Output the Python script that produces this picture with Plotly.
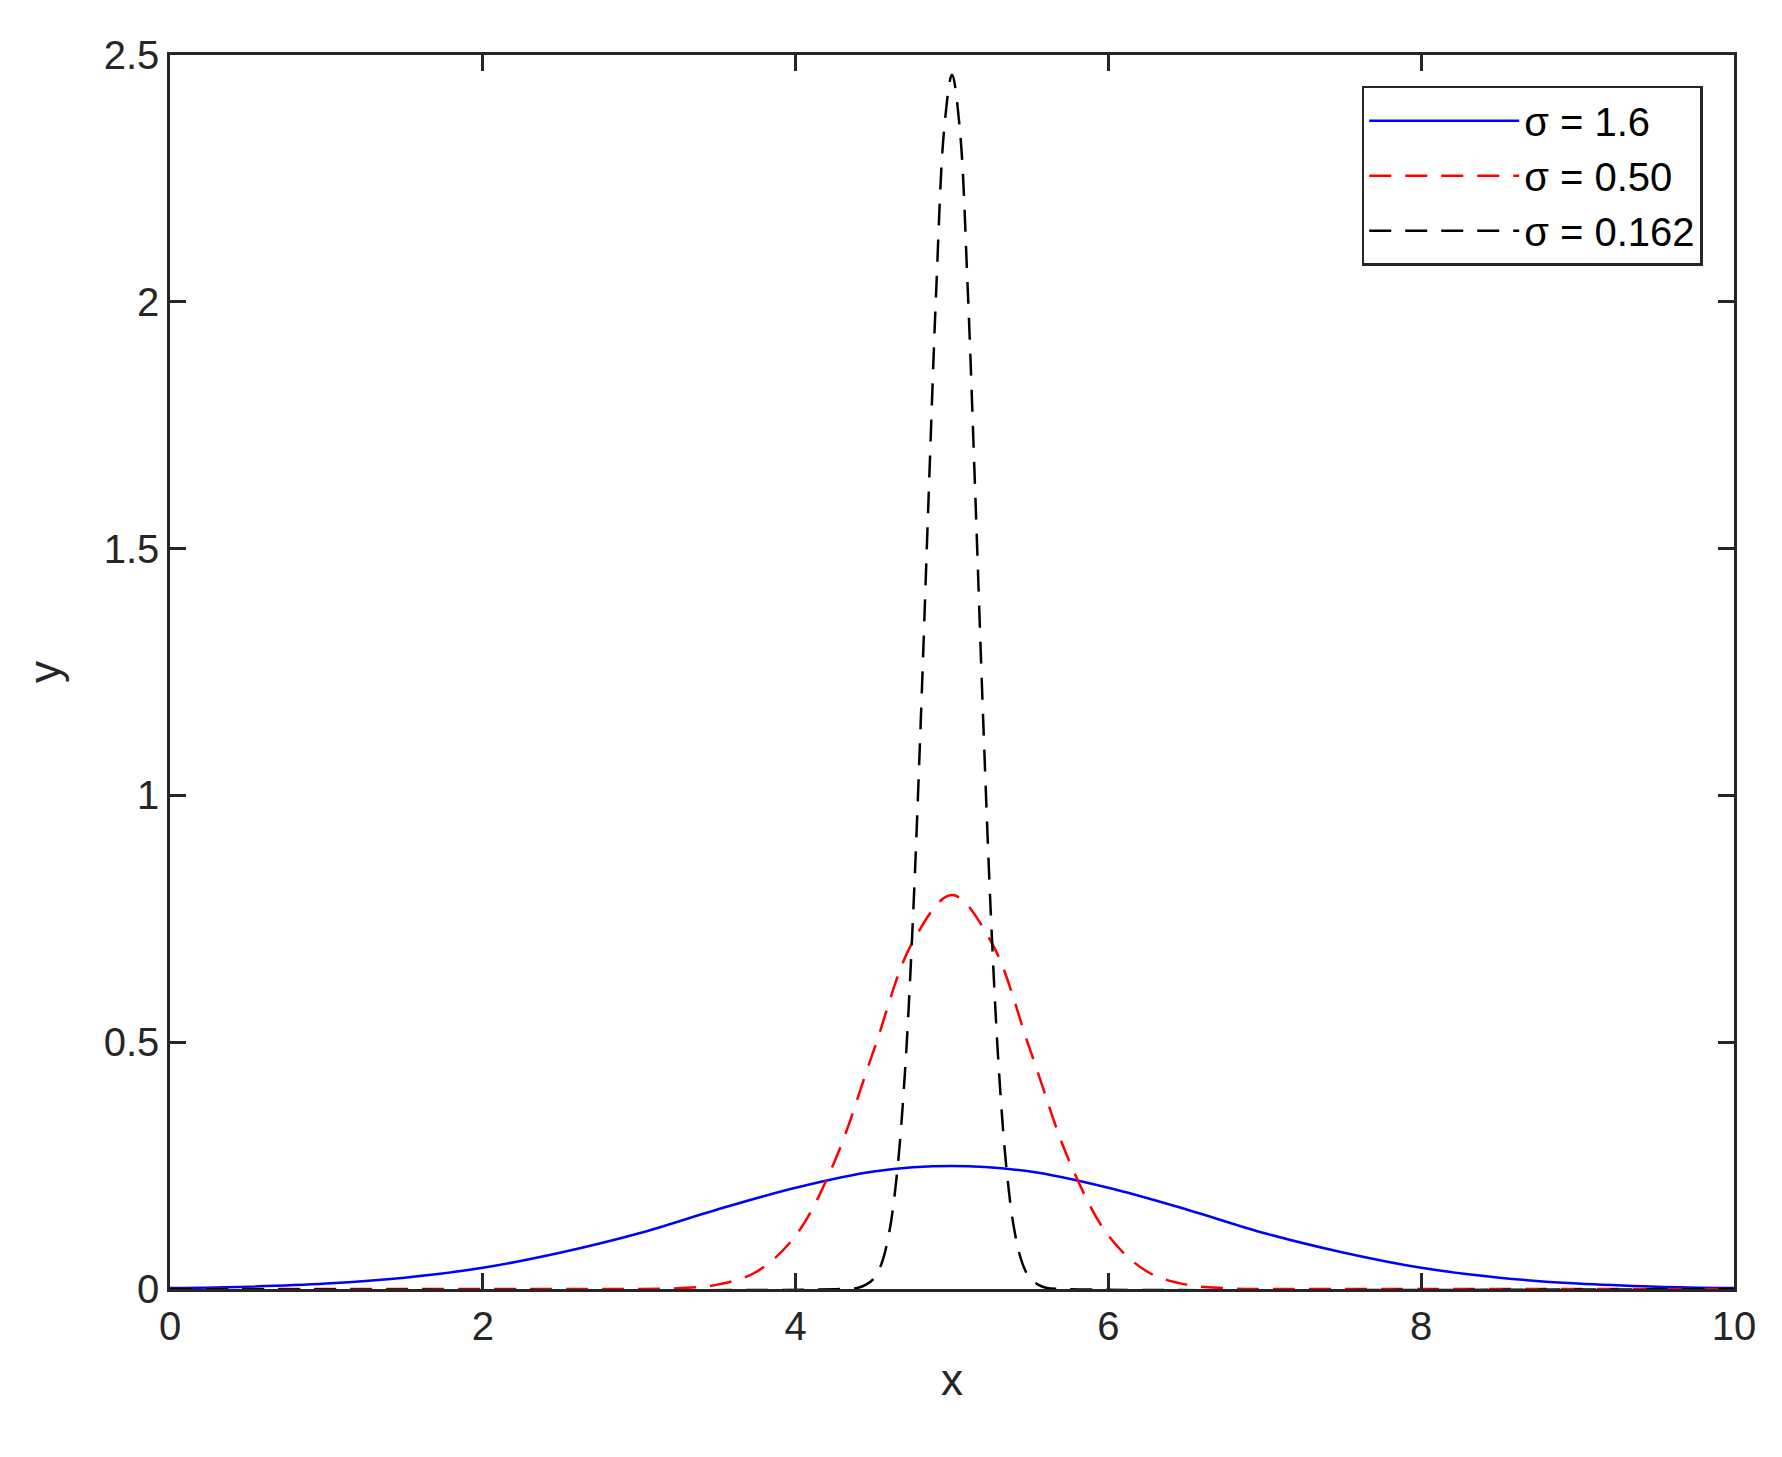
import plotly.graph_objects as go

x_blue = [0, 0.5, 1, 1.5, 2, 2.5, 3, 3.5, 4, 4.5, 5, 5.5, 6, 6.5, 7, 7.5, 8, 8.5, 9, 9.5, 10]
y_blue = [0.0018, 0.0047, 0.011, 0.023, 0.043, 0.074, 0.113, 0.161, 0.205, 0.238, 0.249,
          0.238, 0.205, 0.161, 0.113, 0.074, 0.043, 0.023, 0.011, 0.0047, 0.0018]

x_red = [0, 2.5, 3, 3.25, 3.5, 3.75, 4, 4.25, 4.5, 4.75, 5, 5.25, 5.5, 5.75, 6, 6.25, 6.5, 6.75, 7, 7.5, 10]
y_red = [0, 0, 0.0001, 0.0016, 0.0089, 0.035, 0.108, 0.259, 0.484, 0.704, 0.798,
         0.704, 0.484, 0.259, 0.108, 0.035, 0.0089, 0.0016, 0.0001, 0, 0]

x_blk = [0, 4.3, 4.4, 4.45, 4.5, 4.55, 4.6, 4.65, 4.7, 4.75, 4.8, 4.85, 4.9, 4.95, 5,
         5.05, 5.1, 5.15, 5.2, 5.25, 5.3, 5.35, 5.4, 5.45, 5.5, 5.55, 5.6, 5.7, 10]
y_blk = [0, 0, 0.0026, 0.009, 0.021, 0.052, 0.117, 0.239, 0.443, 0.748, 1.148, 1.60, 2.03, 2.35, 2.46,
         2.35, 2.03, 1.60, 1.148, 0.748, 0.443, 0.239, 0.117, 0.052, 0.021, 0.009, 0.0026, 0, 0]

fig = go.Figure()
fig.add_trace(go.Scatter(x=x_blue, y=y_blue, mode="lines", name="σ = 1.6",
                         line=dict(color="#0000ff", width=2.5, shape="spline")))
fig.add_trace(go.Scatter(x=x_red, y=y_red, mode="lines", name="σ = 0.50",
                         line=dict(color="#ff0000", width=2.5, dash="22px,14px", shape="spline")))
fig.add_trace(go.Scatter(x=x_blk, y=y_blk, mode="lines", name="σ = 0.162",
                         line=dict(color="#000000", width=2.5, dash="22px,14px", shape="spline")))

font = "Liberation Sans, Arial"
ax = dict(showline=True, mirror="ticks", linecolor="#262626", linewidth=2.5,
          ticks="inside", ticklen=16, tickwidth=2.5, tickcolor="#262626",
          showgrid=False, zeroline=False,
          tickfont=dict(family=font, size=40, color="#262626"))
fig.update_xaxes(**ax, range=[0, 10], dtick=2,
                 title=dict(text="x", font=dict(family=font, size=44, color="#262626"), standoff=18))
fig.update_yaxes(**ax, range=[0, 2.5], tickvals=[0, 0.5, 1, 1.5, 2, 2.5],
                 ticktext=["0", "0.5", "1", "1.5", "2", "2.5"],
                 title=dict(text="y", font=dict(family=font, size=44, color="#262626"), standoff=30))
fig.update_layout(width=1782, height=1457, plot_bgcolor="white", paper_bgcolor="white",
                  margin=dict(l=162, r=56, t=47, b=176),
                  legend=dict(x=0.98, y=0.975, xanchor="right", yanchor="top",
                              bordercolor="#262626", borderwidth=2.5, bgcolor="white",
                              itemwidth=150, tracegroupgap=4,
                              font=dict(family=font, size=40, color="black")))
fig.write_html("out.html")
